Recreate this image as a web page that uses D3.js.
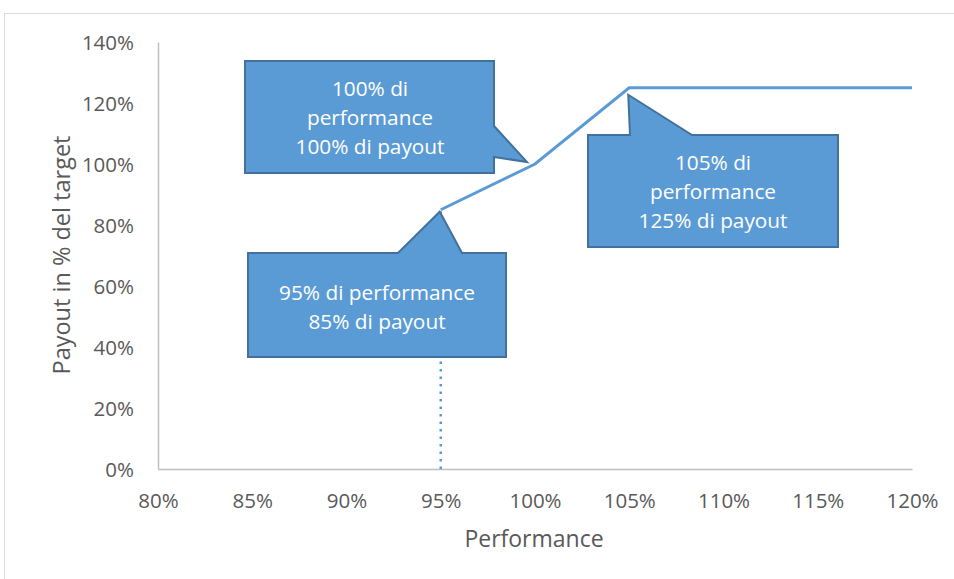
<!DOCTYPE html>
<html><head><meta charset="utf-8">
<script src="https://cdn.jsdelivr.net/npm/d3@7"></script>
<style>body{margin:0;background:#fff}svg{display:block}text{font-family:"Open Sans",sans-serif}</style>
</head><body><svg id="c" width="954" height="579"></svg>
<script>
const performance = [0.95, 1.00, 1.05, 1.20];
const payout = [0.85, 1.00, 1.25, 1.25];
const xTickValues = [0.80, 0.85, 0.90, 0.95, 1.00, 1.05, 1.10, 1.15, 1.20];
const yTickValues = [0, 0.2, 0.4, 0.6, 0.8, 1.0, 1.2, 1.4];
const calloutTexts = [
  ["95% di performance", "85% di payout"],
  ["100% di", "performance", "100% di payout"],
  ["105% di", "performance", "125% di payout"]
];
const xTitle = "Performance";
const yTitle = "Payout in % del target";

const svg = d3.select("#c");
svg.append("rect").attr("x",4.5).attr("y",13.5).attr("width",960).attr("height",600)
  .attr("fill","none").attr("stroke","#D9D9D9");

const x = d3.scaleLinear().domain([0.8,1.2]).range([158,912]);
const y = d3.scaleLinear().domain([0,1.4]).range([469,42]);
const pct = d3.format(".0%");

// axes
const gx = svg.append("g").attr("transform",`translate(0,${y(0)})`)
  .call(d3.axisBottom(x).tickValues(xTickValues).tickFormat(pct).tickSize(0).tickPadding(24));
const gy = svg.append("g").attr("transform",`translate(${x(0.8)},0)`)
  .call(d3.axisLeft(y).tickValues(yTickValues).tickFormat(pct).tickSize(0).tickPadding(24));
[gx,gy].forEach(g=>{
  g.select(".domain").attr("stroke","#BFBFBF").attr("stroke-width",1.5);
  g.selectAll("text").attr("fill","#595959").style("font-size","20.5px").style("font-family","'Open Sans',sans-serif");
});
gy.selectAll("text").attr("dy","0.35em");

svg.append("text").attr("x",534).attr("y",547).attr("text-anchor","middle")
  .attr("fill","#595959").style("font-size","23px").text(xTitle);
svg.append("text").attr("transform",`translate(70,255) rotate(-90)`)
  .attr("text-anchor","middle").attr("fill","#595959").style("font-size","23.5px").text(yTitle);

// dotted drop line
svg.append("line").attr("x1",x(performance[0])).attr("x2",x(performance[0]))
  .attr("y1",y(0)).attr("y2",y(payout[0]))
  .attr("stroke","#5B9BD5").attr("stroke-width",2.5).attr("stroke-dasharray","2.5,5");

// line
const pts = performance.map((p,i)=>[x(p),y(payout[i])]);
svg.append("path").attr("d",d3.line()(pts)).attr("fill","none")
  .attr("stroke","#5B9BD5").attr("stroke-width",3).attr("stroke-linejoin","miter");

// callouts (offsets relative to the anchored data point)
function callout(ax, ay, poly, cx, baselines, lines){
  const g = svg.append("g");
  g.append("path").attr("d", d3.line()(poly.map(([dx,dy])=>[ax+dx, ay+dy])) + "Z")
    .attr("fill","#5B9BD5").attr("stroke","#41719C").attr("stroke-width",2);
  lines.forEach((t,i)=>{
    g.append("text").attr("x",ax+cx).attr("y",ay+baselines[i]).attr("text-anchor","middle")
      .attr("fill","#fff").style("font-size","20.8px").text(t);
  });
}
// 95%
{
  const ax=x(performance[0]), ay=y(payout[0]);
  const L=248-ax, R=506-ax, T=253-ay, B=357-ay;
  callout(ax, ay, [[L,T],[398-ax,T],[-1,2],[462-ax,T],[R,T],[R,B],[L,B]],
    377-ax, [300-ay, 329-ay], calloutTexts[0]);
}
// 100%
{
  const ax=x(performance[1]), ay=y(payout[1]);
  const L=245-ax, R=494-ax, T=61-ay, B=173-ay;
  callout(ax, ay, [[L,T],[R,T],[R,126-ay],[-8,-2],[R,157-ay],[R,B],[L,B]],
    370-ax, [96-ay, 125-ay, 154-ay], calloutTexts[1]);
}
// 105%
{
  const ax=x(performance[2]), ay=y(payout[2]);
  const L=588-ax, R=838-ax, T=135-ay, B=247-ay;
  callout(ax, ay, [[L,T],[630-ax,T],[-1,7],[692-ax,T],[R,T],[R,B],[L,B]],
    713-ax, [170-ay, 199-ay, 228-ay], calloutTexts[2]);
}
</script></body></html>
